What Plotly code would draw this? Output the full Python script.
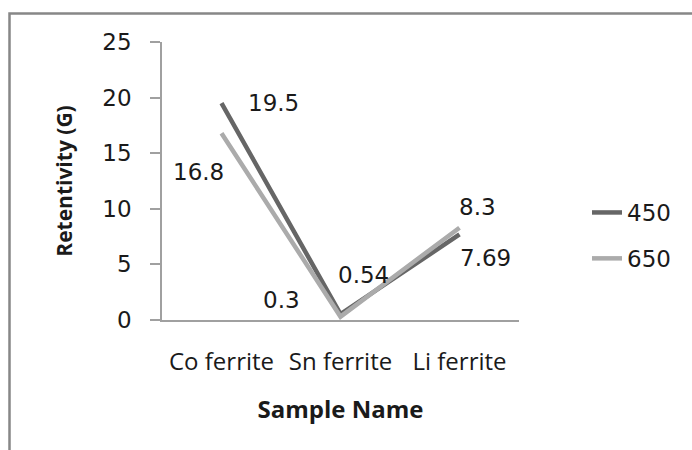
import plotly.graph_objects as go

categories = ["Co ferrite", "Sn ferrite", "Li ferrite"]
series_names = ["450", "650"]
values_450 = [19.5, 0.54, 7.69]
values_650 = [16.8, 0.3, 8.3]
y_ticks = [0, 5, 10, 15, 20, 25]

colors = {"450": "#666666", "650": "#ababab"}

fig = go.Figure()
fig.add_trace(go.Scatter(x=categories, y=values_450, name=series_names[0], mode="lines",
                         line=dict(color=colors["450"], width=4.5), legendgroup="a"))
fig.add_trace(go.Scatter(x=categories, y=values_650, name=series_names[1], mode="lines",
                         line=dict(color=colors["650"], width=4.5), legendgroup="b"))

label_font = dict(family="DejaVu Sans", size=23, color="#1a1a1a")
# (category index, value, xanchor, xshift, yshift)
label_specs = [
    (0, values_450[0], "left", 24, 0),
    (0, values_650[0], "right", 4, -39),
    (1, values_650[1], "right", -39, 17),
    (1, values_450[1], "left", -5, 39),
    (2, values_650[2], "left", -3, 21),
    (2, values_450[2], "left", -2, -24),
]
for ci, v, xa, xs, ys in label_specs:
    fig.add_annotation(x=categories[ci], y=v, text=str(v), showarrow=False,
                       xanchor=xa, yanchor="middle", xshift=xs, yshift=ys, font=label_font)

# outer chart border
fig.add_shape(type="rect", xref="paper", yref="paper",
              x0=(9.5 - 162) / 357, x1=(720 - 162) / 357,
              y0=(320 - 480) / 278, y1=(320 - 13.5) / 278,
              line=dict(color="#878787", width=2.5), layer="below")

fig.update_layout(
    width=692, height=450,
    margin=dict(l=162, r=173, t=42, b=130),
    paper_bgcolor="white", plot_bgcolor="white",
    showlegend=True,
    legend=dict(x=(587 - 162) / 357, y=(320 - 235.5) / 278, xanchor="left", yanchor="middle",
                font=dict(family="DejaVu Sans", size=23, color="#1a1a1a"),
                traceorder="grouped", tracegroupgap=13, bgcolor="rgba(0,0,0,0)"),
    xaxis=dict(type="category", range=[-0.5, 2.5], showline=True, linecolor="#a0a0a0", linewidth=1.5,
               ticks="", showgrid=False, zeroline=False, ticklabelstandoff=19,
               tickfont=dict(family="Open Sans", size=24, color="#1a1a1a"),
               title=dict(text="<b>Sample Name</b>", font=dict(family="Open Sans", size=24, color="#1a1a1a"),
                          standoff=26)),
    yaxis=dict(range=[0, 25], tickvals=y_ticks, showline=True, linecolor="#a0a0a0", linewidth=1.5,
               ticks="outside", ticklen=10, tickcolor="#a0a0a0", tickwidth=1.5,
               showgrid=False, zeroline=False, ticklabelstandoff=14,
               tickfont=dict(family="DejaVu Sans", size=23, color="#1a1a1a"),
               title=dict(text="<b>Retentivity (G)</b>", font=dict(family="Open Sans", size=21, color="#1a1a1a"),
                          standoff=24)),
)

fig.write_html("out.html", config={"displayModeBar": False},
               post_script="document.body.style.margin='0px';")
